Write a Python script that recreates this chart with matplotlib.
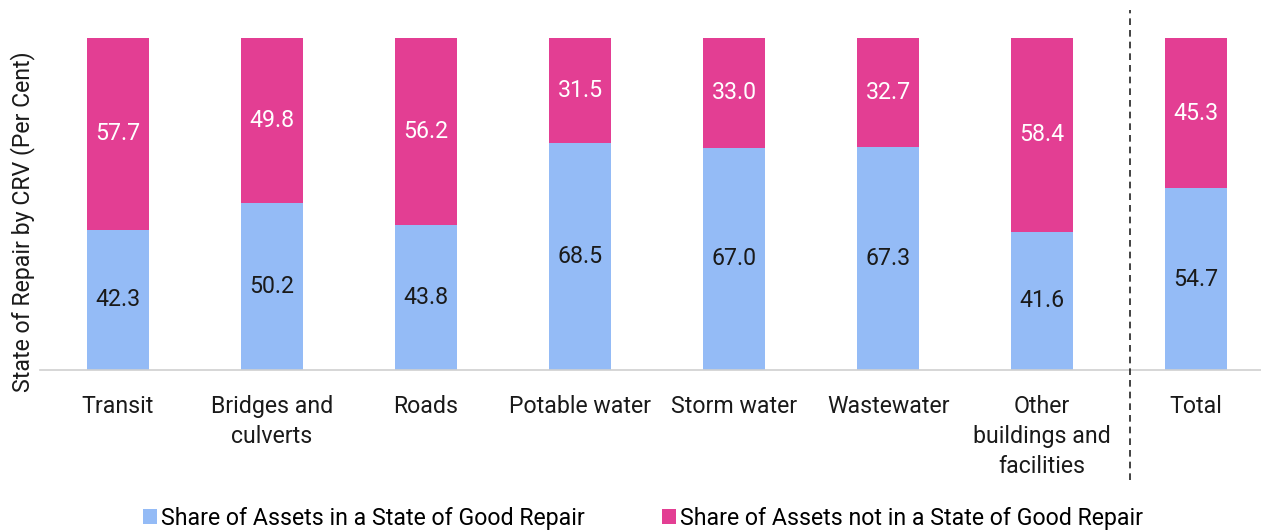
import numpy as np
import matplotlib.pyplot as plt
from matplotlib.lines import Line2D

plt.rcParams['font.family'] = ['Roboto', 'DejaVu Sans']

# Datos
categories = ['Transit', 'Bridges and\nculverts', 'Roads', 'Potable water',
              'Storm water', 'Wastewater', 'Other\nbuildings and\nfacilities', 'Total']
good = [42.3, 50.2, 43.8, 68.5, 67.0, 67.3, 41.6, 54.7]
not_good = [57.7, 49.8, 56.2, 31.5, 33.0, 32.7, 58.4, 45.3]
series_names = ['Share of Assets in a State of Good Repair',
                'Share of Assets not in a State of Good Repair']

blue = '#94BBF6'
pink = '#E33E93'
txt = '#1a1a1a'
fs = 16.7

fig = plt.figure(figsize=(12.61, 5.31), dpi=100)
ax = fig.add_axes([40 / 1261, 1 - 370 / 531, 1 - 40 / 1261, 332 / 531])

x = np.arange(len(categories))
b1 = ax.bar(x, good, width=0.4, color=blue, label=series_names[0])
b2 = ax.bar(x, not_good, width=0.4, bottom=good, color=pink, label=series_names[1])

for xi, g, n in zip(x, good, not_good):
    ax.text(xi, g / 2, f'{g:.1f}', ha='center', va='center', fontsize=fs, color=txt)
    ax.text(xi, g + n / 2, f'{n:.1f}', ha='center', va='center', fontsize=fs,
            color='white')

ax.set_xlim(-0.506, 7.42)
ax.set_ylim(0, 100)
ax.set_xticks(x)
ax.set_xticklabels(categories, fontsize=fs, color=txt, linespacing=1.4)
ax.tick_params(axis='x', length=0, pad=18)
ax.set_yticks([])
for s in ['top', 'right', 'left']:
    ax.spines[s].set_visible(False)
ax.spines['bottom'].set_color('#d0d0d0')
ax.spines['bottom'].set_linewidth(1.2)

ax.set_ylabel('State of Repair by CRV (Per Cent)', fontsize=fs, color=txt)
ax.yaxis.set_label_coords(-0.004, 0.447)

# Linea discontinua separando el total
xd = 1130 / 1261
fig.add_artist(Line2D([xd, xd], [1 - 480 / 531, 1 - 10 / 531], color='#222222',
                      linestyle=(0, (4, 3)), linewidth=1.2, transform=fig.transFigure))

fig.legend(handles=[b1, b2], loc='lower center', bbox_to_anchor=(0.51, -0.037),
           ncol=2, frameon=False, handlelength=0.6, handleheight=0.6,
           handletextpad=0.2, columnspacing=3.3, prop={'size': fs})

fig.savefig('out.png', dpi=100)
